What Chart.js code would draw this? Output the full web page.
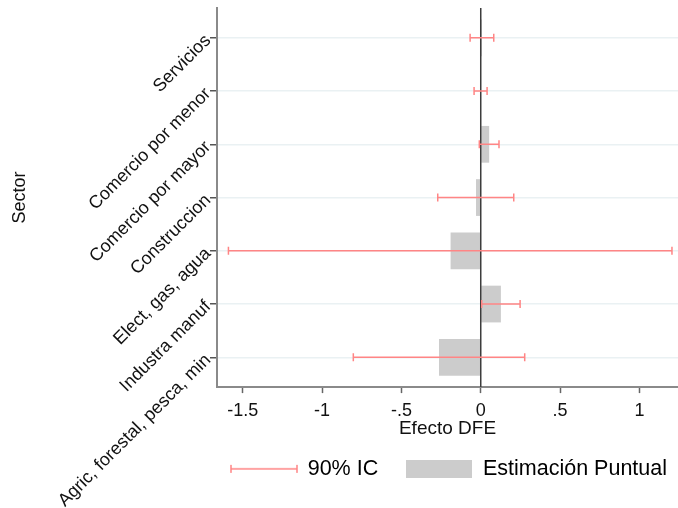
<!DOCTYPE html>
<html>
<head>
<meta charset="utf-8">
<script src="https://cdn.jsdelivr.net/npm/chart.js@4.4.1/dist/chart.umd.min.js"></script>
<style>
  html, body { margin: 0; padding: 0; background: #fff; }
  #wrap { width: 678px; height: 508px; }
</style>
</head>
<body>
<div id="wrap"><canvas id="grafico"></canvas></div>
<script>
// Sectores, de arriba hacia abajo
const sectores = ["Servicios", "Comercio por menor", "Comercio por mayor", "Construccion",
  "Elect, gas, agua", "Industra manuf", "Agric, forestal, pesca, min"];
// Estimacion puntual del efecto DFE
const estimacion = [0.008, -0.001, 0.053, -0.03, -0.19, 0.127, -0.263];
// Intervalo de confianza al 90%
const icInferior = [-0.067, -0.042, -0.009, -0.271, -1.59, 0.006, -0.803];
const icSuperior = [0.082, 0.040, 0.115, 0.208, 1.205, 0.248, 0.277];
// Marcas del eje x (estilo Stata)
const ticksX = [-1.5, -1, -0.5, 0, 0.5, 1];
const etiquetasX = ["-1.5", "-1", "-.5", "0", ".5", "1"];

const fuente = "'Liberation Sans', Arial, sans-serif";
const rojoIC = "#ff8585";
const grisBarra = "#cccccc";

// muestras para la leyenda
function muestra(w, h, dibujar) {
  const c = document.createElement("canvas");
  c.width = w; c.height = h;
  dibujar(c.getContext("2d"));
  return c;
}
const muestraIC = muestra(68, 10, ctx => {
  ctx.strokeStyle = rojoIC;
  ctx.lineWidth = 1.5;
  ctx.beginPath();
  ctx.moveTo(1, 5); ctx.lineTo(67, 5);
  ctx.moveTo(1, 1); ctx.lineTo(1, 9);
  ctx.moveTo(67, 1); ctx.lineTo(67, 9);
  ctx.stroke();
});
const muestraBarra = muestra(66, 18, ctx => {
  ctx.fillStyle = grisBarra;
  ctx.fillRect(0, 0, 66, 18);
});

// linea en cero y barras de error
const barrasError = {
  id: "barrasError",
  afterUpdate(chart) {
    // acomodar la leyenda como en Stata
    const lg = chart.legend;
    lg.left += 17; lg.right += 17;
    lg.top -= 10; lg.bottom -= 10;
  },
  afterDatasetsDraw(chart) {
    const ctx = chart.ctx;
    const x = chart.scales.x, y = chart.scales.y;
    const area = chart.chartArea;
    const x0 = x.getPixelForValue(0);
    ctx.save();
    ctx.strokeStyle = "#3c3c3c";
    ctx.lineWidth = 1.5;
    ctx.beginPath();
    ctx.moveTo(x0, area.top);
    ctx.lineTo(x0, area.bottom);
    ctx.stroke();

    ctx.strokeStyle = rojoIC;
    ctx.lineWidth = 1.5;
    sectores.forEach((s, i) => {
      const py = y.getPixelForValue(i);
      const x1 = x.getPixelForValue(icInferior[i]);
      const x2 = x.getPixelForValue(icSuperior[i]);
      ctx.beginPath();
      ctx.moveTo(x1, py); ctx.lineTo(x2, py);
      ctx.moveTo(x1, py - 4); ctx.lineTo(x1, py + 4);
      ctx.moveTo(x2, py - 4); ctx.lineTo(x2, py + 4);
      ctx.stroke();
    });
    ctx.restore();
  }
};

new Chart(document.getElementById("grafico"), {
  type: "bar",
  data: {
    datasets: [{
      label: "Estimación Puntual",
      data: estimacion.map((v, i) => ({ x: v, y: i })),
      backgroundColor: grisBarra,
      borderWidth: 0,
      barPercentage: 0.69,
      categoryPercentage: 1
    }]
  },
  options: {
    indexAxis: "y",
    responsive: true,
    maintainAspectRatio: false,
    animation: false,
    devicePixelRatio: 1,
    layout: { padding: { top: 8, right: 0, left: 0, bottom: 8.4 } },
    plugins: {
      tooltip: { enabled: false },
      legend: {
        position: "bottom",
        align: "end",
        labels: {
          usePointStyle: true,
          pointStyleWidth: 66,
          boxHeight: 18,
          padding: 28,
          color: "#111",
          font: { family: fuente, size: 21.5 },
          generateLabels: () => [
            { text: "90% IC", pointStyle: muestraIC, lineWidth: 0, hidden: false },
            { text: "Estimación Puntual", pointStyle: muestraBarra, lineWidth: 0, hidden: false }
          ]
        }
      }
    },
    scales: {
      x: {
        min: -1.662,
        max: 1.243,
        afterBuildTicks: s => { s.ticks = ticksX.map(v => ({ value: v })); },
        afterFit: s => { s.height = 53; },
        border: { color: "#8a8a8a", width: 2 },
        grid: { drawOnChartArea: false, tickLength: 6, tickColor: "#666", tickWidth: 1.5 },
        ticks: {
          color: "#111",
          padding: 7,
          font: { family: fuente, size: 18 },
          callback: v => etiquetasX[ticksX.indexOf(v)]
        },
        title: {
          display: true, text: "Efecto DFE", color: "#111",
          font: { family: fuente, size: 19 }, padding: { top: 0, bottom: 0 }
        }
      },
      y: {
        type: "linear",
        reverse: true,
        offset: false,
        min: -0.56,
        max: 6.56,
        afterBuildTicks: s => { s.ticks = sectores.map((n, i) => ({ value: i })); },
        afterFit: s => { s.width = 217; s.paddingTop = 0; s.paddingBottom = 0; },
        border: { color: "#8a8a8a", width: 2 },
        grid: { offset: false, color: "#eaf1f3", lineWidth: 1.5, tickColor: "#555", tickLength: 7 },
        ticks: {
          minRotation: 45, maxRotation: 45, autoSkip: false,
          color: "#111", padding: 2,
          font: { family: fuente, size: 18 },
          callback: v => sectores[v]
        },
        title: {
          display: true, text: "Sector", color: "#111",
          font: { family: fuente, size: 18 }, padding: { top: 9, bottom: 0 }
        }
      }
    }
  },
  plugins: [barrasError]
});
</script>
</body>
</html>
